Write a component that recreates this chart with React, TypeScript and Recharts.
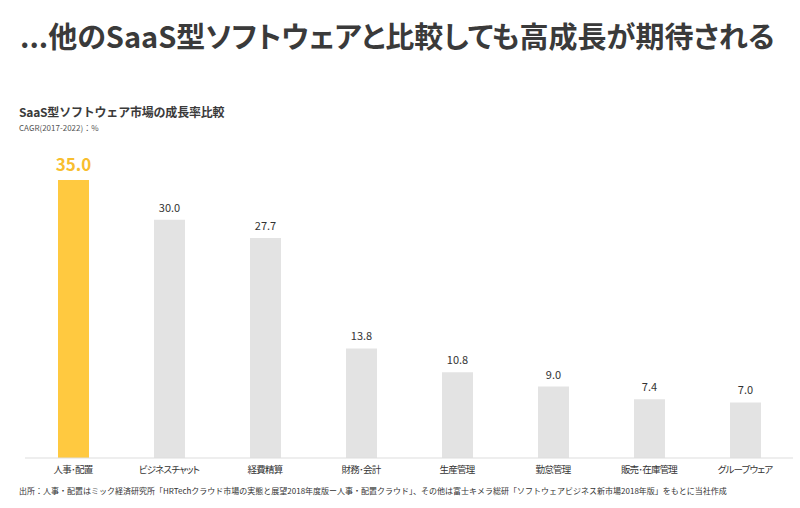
import React from "react";
import { BarChart, Bar, XAxis, YAxis, Cell, LabelList } from "recharts";

const categories = ["人事･配置", "ビジネスチャット", "経費精算", "財務･会計", "生産管理", "勤怠管理", "販売･在庫管理", "グループウェア"];
const cagr = [35.0, 30.0, 27.7, 13.8, 10.8, 9.0, 7.4, 7.0];
const highlightIndex = 0;

const data = categories.map((name, i) => ({ name, value: cagr[i] }));

const FONT = "'Noto Sans CJK JP', 'Noto Sans', sans-serif";
const YELLOW = "#FFC940";
const YELLOW_TEXT = "#F8BE2E";
const GRAY = "#E3E3E3";

const ValueLabel = (props: any) => {
  const { x, y, width, value, index } = props;
  const hi = index === highlightIndex;
  return (
    <text
      x={x + width / 2}
      y={y - (hi ? 9 : 8)}
      textAnchor="middle"
      fontFamily={FONT}
      fontSize={hi ? 17 : 11}
      fontWeight={hi ? 700 : 400}
      fill={hi ? YELLOW_TEXT : "#333"}
    >
      {Number(value).toFixed(1)}
    </text>
  );
};

export default function App() {
  return (
    <div style={{ position: "absolute", left: 0, top: 0, width: 800, height: 508, background: "#fff", fontFamily: FONT }}>
      <div style={{ position: "absolute", left: 20, top: 14, fontSize: 29, fontWeight: 700, color: "#3a3a3a", whiteSpace: "nowrap", fontFeatureSettings: "'palt'" }}>
        ...他のSaaS型ソフトウェアと比較しても高成長が期待される
      </div>
      <div style={{ position: "absolute", left: 19, top: 103, fontSize: 12, fontWeight: 700, color: "#3a3a3a", whiteSpace: "nowrap", letterSpacing: -0.2 }}>
        SaaS型ソフトウェア市場の成長率比較
      </div>
      <div style={{ position: "absolute", left: 19, top: 122, fontSize: 8, color: "#555", whiteSpace: "nowrap" }}>
        CAGR(2017-2022)：%
      </div>
      <div style={{ position: "absolute", left: 0, top: 0 }}>
        <BarChart width={800} height={508} data={data} margin={{ top: 180, right: 7, bottom: 30, left: 25 }}>
          <XAxis
            dataKey="name"
            height={20}
            tickLine={false}
            axisLine={{ stroke: "#DDDDDD" }}
            interval={0}
            tick={{ fontSize: 9.5, fill: "#333", fontFamily: FONT, style: { fontFeatureSettings: "'palt'", letterSpacing: -0.8 } }}
          />
          <YAxis hide domain={[0, 35]} />
          <Bar dataKey="value" barSize={31} isAnimationActive={false}>
            {data.map((d, i) => (
              <Cell key={d.name} fill={i === highlightIndex ? YELLOW : GRAY} />
            ))}
            <LabelList dataKey="value" content={ValueLabel} />
          </Bar>
        </BarChart>
      </div>
      <div style={{ position: "absolute", left: 19, top: 485, fontSize: 8, color: "#333", whiteSpace: "nowrap" }}>
        出所：人事・配置はミック経済研究所「HRTechクラウド市場の実態と展望2018年度版ー人事・配置クラウド」、その他は富士キメラ総研「ソフトウェアビジネス新市場2018年版」をもとに当社作成
      </div>
    </div>
  );
}
